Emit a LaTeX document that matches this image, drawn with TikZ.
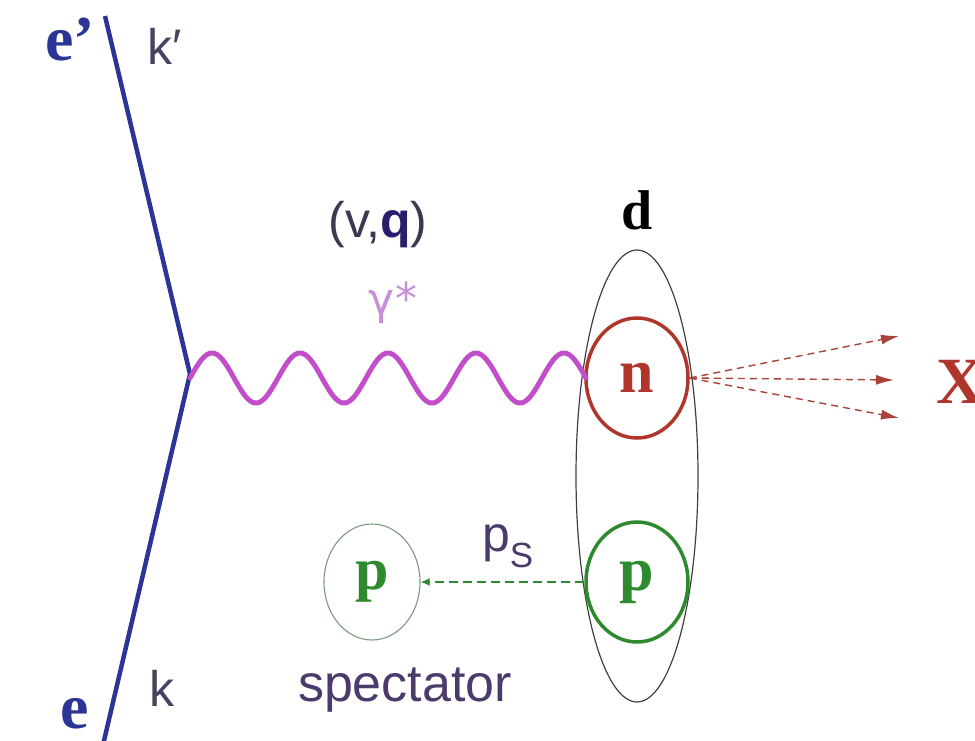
\documentclass[tikz,border=0pt]{standalone}
\usepackage{fontspec}
\setmainfont{Liberation Serif}
\setsansfont{Liberation Sans}
\newfontfamily\dejavu{DejaVu Sans}
\usetikzlibrary{shapes.geometric,arrows.meta}
\definecolor{eblue}{HTML}{2A3595}
\definecolor{klab}{HTML}{4A4060}
\definecolor{phot}{HTML}{C24FC9}
\definecolor{gam}{HTML}{C68FD6}
\definecolor{nred}{HTML}{B0362C}
\definecolor{xred}{HTML}{A8433A}
\definecolor{pgreen}{HTML}{2E8A2E}
\definecolor{sgray}{HTML}{7E9A7E}
\definecolor{sviolet}{HTML}{4B3A6B}
\definecolor{qblue}{HTML}{2C1C6E}
\tikzset{
  eline/.style={draw=eblue, line width=4.5pt, line join=miter},
  photon/.style={draw=phot, line width=5pt, line cap=round},
  sanslab/.style={font=\fontsize{50}{50}\selectfont\sffamily},
  nucl/.style={ellipse, draw, line width=3.5pt, minimum width=102pt, minimum height=120pt, inner sep=0pt},
  xarrow/.style={draw=xred, line width=1.4pt, dash pattern=on 7pt off 5pt, -{Latex[length=18pt,width=10pt]}},
  parrow/.style={draw=pgreen, line width=1.6pt, dash pattern=on 9pt off 5pt, -{Latex[length=9pt,width=8pt]}},
}
\begin{document}
\begin{tikzpicture}[x=1pt,y=-1pt]
\useasboundingbox (0,0) rectangle (975,741);
% electron lines
\coordinate (top) at (105,16);
\coordinate (v) at (190,374);
\coordinate (bot) at (103,745);
\draw[eline] (top) -- (v) -- (bot);
\node[text=eblue, font=\fontsize{64}{64}\selectfont\bfseries] (eprime) at (70,40) {e’};
\node[sanslab, text=klab] (kprime) at (165,46) {k′};
\node[text=eblue, font=\fontsize{64}{64}\selectfont\bfseries] (e) at (75,714) {e};
\node[sanslab, text=klab] (k) at (162,688) {k};
% deuteron
\node[ellipse, draw=black!75, line width=1.2pt, minimum width=122pt, minimum height=452pt] (d) at (637,476) {};
\node[font=\fontsize{56}{56}\selectfont\bfseries] (dlab) at (637,210) {d};
\node[nucl, draw=nred, text=nred, font=\fontsize{62}{62}\selectfont\bfseries] (n) at (637,378) {n};
\node[nucl, draw=pgreen, text=pgreen, font=\fontsize{62}{62}\selectfont\bfseries] (pin) at (637,582) {p};
% photon
\draw[photon] plot[domain=190:586, samples=240, variable=\x] ({\x},{378-25*sin(4.0909*(\x-190))});
\node[sanslab, text=klab!85!black] (vq) at (378,225) {(v,\textcolor{qblue}{\textbf{q}})};
\node[text=gam, font=\fontsize{44}{44}\selectfont\dejavu] (gamma) at (393,303) {γ*};
% outgoing X
\coordinate (x1) at (899,336);
\coordinate (x2) at (894,380);
\coordinate (x3) at (899,418);
\draw[xarrow] (n.east) -- (x1);
\draw[xarrow] (n.east) -- (x2);
\draw[xarrow] (n.east) -- (x3);
\node[anchor=west, text=nred, font=\fontsize{66}{66}\selectfont\bfseries, inner sep=0pt] (X) at (936,382) {X};
% spectator
\node[nucl, draw=sgray, line width=1.1pt, minimum width=96pt, minimum height=116pt, text=pgreen, font=\fontsize{60}{60}\selectfont\bfseries] (ps) at (372,582) {p};
\draw[parrow] (pin.west) -- (ps.east);
\node[sanslab, text=sviolet] (pslab) at (508,546) {p\textsubscript{S}};
\node[sanslab, text=sviolet, font=\fontsize{52}{52}\selectfont\sffamily] (spec) at (405,690) {spectator};
\end{tikzpicture}
\end{document}
